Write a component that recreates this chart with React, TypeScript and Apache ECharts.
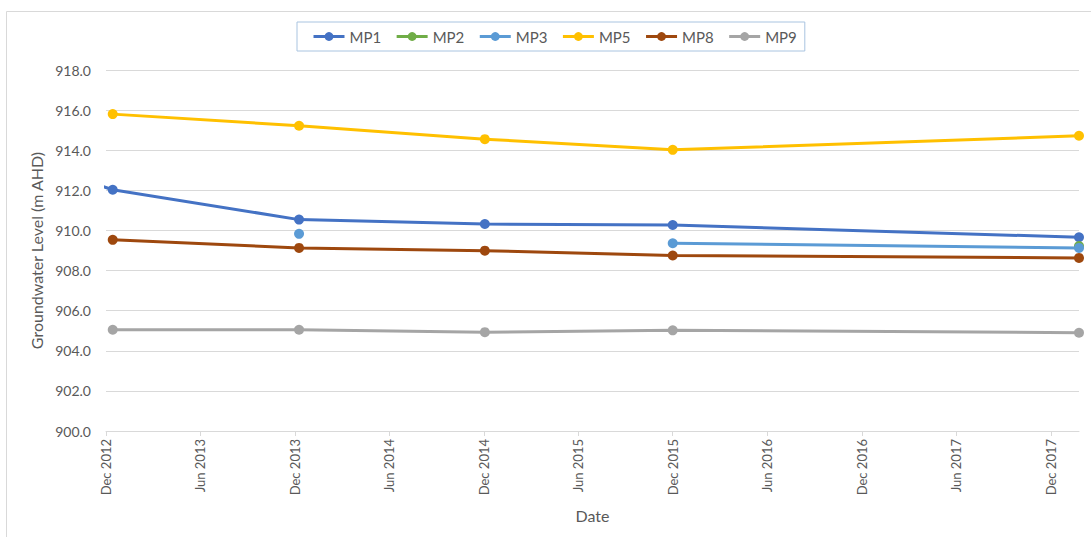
import React, { useEffect, useRef } from "react";
import * as echarts from "echarts";

// Sampling dates (first MP1 sample lies before the visible range)
const dates = ["2012-06-14", "2012-12-14", "2013-12-09", "2014-12-03", "2015-12-01", "2018-01-24"];
const mp1 = [913.6, 912.03, 910.54, 910.32, 910.27, 909.66];
const mp2 = [null, null, null, null, null, 909.22];
const mp3 = [null, null, 909.83, null, 909.36, 909.13];
const mp5 = [null, 915.8, 915.22, 914.55, 914.02, 914.72];
const mp8 = [null, 909.53, 909.13, 908.99, 908.75, 908.63];
const mp9 = [null, 905.05, 905.05, 904.93, 905.02, 904.9];

const seriesNames = ["MP1", "MP2", "MP3", "MP5", "MP8", "MP9"];
const seriesValues = [mp1, mp2, mp3, mp5, mp8, mp9];
const seriesColors = ["#4472C4", "#70AD47", "#5B9BD5", "#FFC000", "#9E480E", "#A5A5A5"];

const tickDates = [
  "2012-12-01", "2013-06-01", "2013-12-01", "2014-06-01", "2014-12-01", "2015-06-01",
  "2015-12-01", "2016-06-01", "2016-12-01", "2017-06-01", "2017-12-01",
];
const xMin = "2012-12-01";
const xMax = "2018-01-24";
const yMin = 900;
const yMax = 918;
const yStep = 2;

const MONTHS = ["Jan", "Feb", "Mar", "Apr", "May", "Jun", "Jul", "Aug", "Sep", "Oct", "Nov", "Dec"];
const toMs = (s: string) => {
  const [y, m, d] = s.split("-").map(Number);
  return Date.UTC(y, m - 1, d);
};

const FONT = "Lato, 'Liberation Sans', sans-serif";
const TEXT = "#595959";

export default function App() {
  const ref = useRef<HTMLDivElement>(null);
  useEffect(() => {
    document.body.style.margin = "0";
    if (!ref.current) return;
    const chart = echarts.init(ref.current, undefined, { renderer: "svg" });
    const tickMs = tickDates.map(toMs);
    chart.setOption({
      animation: false,
      backgroundColor: "#ffffff",
      textStyle: { fontFamily: FONT },
      graphic: [
        {
          type: "rect",
          shape: { x: 6.5, y: 11.5, width: 1100, height: 540 },
          style: { fill: "none", stroke: "#d9d9d9", lineWidth: 1 },
          silent: true,
        },
      ],
      legend: {
        data: seriesNames,
        left: 297,
        top: 22,
        padding: [7, 8, 7, 15],
        borderColor: "#a9c4e0",
        borderWidth: 1,
        itemWidth: 31,
        itemHeight: 11,
        itemGap: 14,
        lineStyle: { width: 3 },
        textStyle: { fontFamily: FONT, fontSize: 15, color: TEXT },
      },
      grid: { left: 106, top: 70, width: 973, height: 361, containLabel: false },
      xAxis: {
        type: "value",
        min: toMs(xMin),
        max: toMs(xMax),
        name: "Date",
        nameLocation: "middle",
        nameGap: 76,
        nameTextStyle: { fontFamily: FONT, fontSize: 16, color: TEXT },
        axisLine: { show: true, lineStyle: { color: "#d9d9d9", width: 1 } },
        axisTick: { show: true, length: 5, customValues: tickMs, lineStyle: { color: "#d9d9d9" } },
        splitLine: { show: false },
        axisLabel: {
          customValues: tickMs,
          rotate: 90,
          margin: 8,
          fontFamily: FONT,
          fontSize: 13,
          color: TEXT,
          formatter: (v: number) => {
            const d = new Date(v + 3 * 86400000);
            return MONTHS[d.getUTCMonth()] + " " + d.getUTCFullYear();
          },
        },
      },
      yAxis: {
        type: "value",
        min: yMin,
        max: yMax,
        interval: yStep,
        name: "Groundwater Level (m AHD)",
        nameLocation: "middle",
        nameGap: 60,
        nameTextStyle: { fontFamily: FONT, fontSize: 16, color: TEXT },
        axisLine: { show: false },
        axisTick: { show: false },
        splitLine: { show: true, lineStyle: { color: "#d9d9d9", width: 1 } },
        axisLabel: {
          margin: 15,
          fontFamily: FONT,
          fontSize: 14,
          color: TEXT,
          formatter: (v: number) => v.toFixed(1),
        },
      },
      series: seriesNames.map((name, i) => ({
        name,
        type: "line",
        clip: true,
        connectNulls: false,
        symbol: "circle",
        symbolSize: 10,
        showSymbol: true,
        color: seriesColors[i],
        lineStyle: { width: 3, color: seriesColors[i] },
        itemStyle: { color: seriesColors[i] },
        data: dates.map((d, j) => [toMs(d), seriesValues[i][j]]),
      })),
    });
    return () => chart.dispose();
  }, []);
  return <div ref={ref} style={{ width: 1091, height: 537 }} />;
}
